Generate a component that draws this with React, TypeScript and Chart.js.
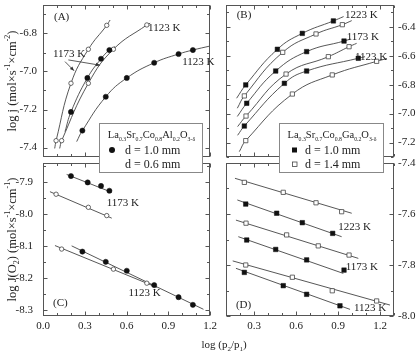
import React, { useEffect, useRef } from "react";
import { Chart, registerables } from "chart.js";

Chart.register(...registerables);

const W = 416;
const H = 353;
const FONT = "'Liberation Serif', 'Times New Roman', serif";
const INK = "#222";
const FRAME = "#555";
const LINE = "#444";

// ---------- tick values ----------
const X_TICKS_AC = [0, 0.1, 0.2, 0.3, 0.4, 0.5, 0.6, 0.7, 0.8, 0.9, 1.0, 1.1, 1.2];
const X_LABELS_AC = [0, 0.3, 0.6, 0.9, 1.2];
const X_TICKS_BD = [0.1, 0.2, 0.3, 0.4, 0.5, 0.6, 0.7, 0.8, 0.9, 1.0, 1.1, 1.2, 1.3];
const X_LABELS_BD = [0.3, 0.6, 0.9, 1.2];
const A_Y_TICKS = [-7.4, -7.3, -7.2, -7.1, -7.0, -6.9, -6.8, -6.7];
const A_Y_LABELS = [-7.4, -7.2, -7.0, -6.8];
const B_Y_TICKS = [-7.3, -7.2, -7.1, -7.0, -6.9, -6.8, -6.7, -6.6, -6.5, -6.4, -6.3];
const B_Y_LABELS = [-7.2, -7.0, -6.8, -6.6, -6.4];
const C_Y_TICKS = [-8.3, -8.25, -8.2, -8.15, -8.1, -8.05, -8.0, -7.95, -7.9, -7.85];
const C_Y_LABELS = [-8.3, -8.2, -8.1, -8.0, -7.9];
const D_Y_TICKS = [-8.0, -7.9, -7.8, -7.7, -7.6, -7.5, -7.4];
const D_Y_LABELS = [-8.0, -7.8, -7.6, -7.4];

// ---------- Panel A (La0.3Sr0.7Co0.8Al0.2O3-d, log j) ----------
const A_O1173_X = [0.094, 0.201, 0.326, 0.458];
const A_O1173_Y = [-7.364, -7.062, -6.883, -6.757];
const A_O1173_FX = [0.084, 0.482];
const A_O1173_FY = [-7.405, -6.729];
const A_F1173_X = [0.201, 0.319, 0.417, 0.477];
const A_F1173_Y = [-7.213, -7.034, -6.933, -6.887];
const A_F1173_FX = [0.158, 0.518];
const A_F1173_FY = [-7.317, -6.869];
const A_O1123_X = [0.134, 0.326, 0.506, 0.746];
const A_O1123_Y = [-7.364, -7.062, -6.883, -6.755];
const A_O1123_FX = [0.12, 0.77];
const A_O1123_FY = [-7.405, -6.746];
const A_F1123_X = [0.283, 0.451, 0.602, 0.799, 0.974, 1.077];
const A_F1123_Y = [-7.311, -7.133, -7.034, -6.954, -6.908, -6.887];
const A_F1123_FX = [0.242, 1.2];
const A_F1123_FY = [-7.369, -6.866];

// ---------- Panel B (La0.3Sr0.7Co0.8Ga0.2O3-d, log j) ----------
const B_F1223_X = [0.241, 0.467, 0.645, 0.867];
const B_F1223_Y = [-6.802, -6.556, -6.446, -6.36];
const B_F1223_FX = [0.176, 0.94];
const B_F1223_FY = [-6.894, -6.33];
const B_O1223_X = [0.231, 0.505, 0.743, 0.931];
const B_O1223_Y = [-6.878, -6.577, -6.45, -6.386];
const B_O1223_FX = [0.181, 0.998];
const B_O1223_FY = [-6.963, -6.358];
const B_F1173_X = [0.248, 0.455, 0.676, 0.943];
const B_F1173_Y = [-6.929, -6.706, -6.572, -6.499];
const B_F1173_FX = [0.181, 0.99];
const B_F1173_FY = [-7.02, -6.485];
const B_O1173_X = [0.243, 0.529, 0.831, 0.979];
const B_O1173_Y = [-7.017, -6.727, -6.607, -6.538];
const B_O1173_FX = [0.183, 1.033];
const B_O1173_FY = [-7.09, -6.515];
const B_F1123_X = [0.231, 0.517, 0.676, 1.045];
const B_F1123_Y = [-7.086, -6.791, -6.706, -6.618];
const B_F1123_FX = [0.183, 1.093];
const B_F1123_FY = [-7.15, -6.607];
const B_O1123_X = [0.241, 0.574, 0.859, 1.176];
const B_O1123_Y = [-7.187, -6.865, -6.733, -6.639];
const B_O1123_FX = [0.195, 1.25];
const B_O1123_FY = [-7.263, -6.62];

// ---------- Panel C (Al, log J(O2)) ----------
const C_F1173_X = [0.201, 0.321, 0.417, 0.477];
const C_F1173_Y = [-7.881, -7.901, -7.912, -7.927];
const C_F1173_FX = [0.17, 0.494];
const C_F1173_FY = [-7.876, -7.932];
const C_O1173_X = [0.094, 0.326, 0.458];
const C_O1173_Y = [-7.938, -7.979, -8.005];
const C_O1173_FX = [0.05, 0.494];
const C_O1173_FY = [-7.93, -8.013];
const C_F1123_X = [0.283, 0.451, 0.602, 0.799, 0.974, 1.077];
const C_F1123_Y = [-8.118, -8.15, -8.178, -8.223, -8.261, -8.285];
const C_F1123_FX = [0.206, 1.153];
const C_F1123_FY = [-8.1, -8.299];
const C_O1123_X = [0.134, 0.506, 0.746];
const C_O1123_Y = [-8.11, -8.173, -8.217];
const C_O1123_FX = [0.086, 0.818];
const C_O1123_FY = [-8.099, -8.23];

// ---------- Panel D (Ga, log J(O2)) ----------
const D_O1223_X = [0.231, 0.509, 0.743, 0.926];
const D_O1223_Y = [-7.476, -7.515, -7.556, -7.591];
const D_O1223_FX = [0.164, 0.998];
const D_O1223_FY = [-7.46, -7.597];
const D_F1223_X = [0.241, 0.462, 0.645, 0.862];
const D_F1223_Y = [-7.561, -7.597, -7.634, -7.676];
const D_F1223_FX = [0.181, 0.926];
const D_F1223_FY = [-7.545, -7.689];
const D_O1173_X = [0.243, 0.533, 0.759, 0.979];
const D_O1173_Y = [-7.636, -7.682, -7.725, -7.761];
const D_O1173_FX = [0.171, 1.045];
const D_O1173_FY = [-7.624, -7.774];
const D_F1173_X = [0.248, 0.455, 0.676, 0.943];
const D_F1173_Y = [-7.702, -7.739, -7.78, -7.82];
const D_F1173_FX = [0.188, 0.938];
const D_F1173_FY = [-7.689, -7.833];
const D_O1123_X = [0.241, 0.574, 0.859, 1.176];
const D_O1123_Y = [-7.8, -7.848, -7.901, -7.941];
const D_O1123_FX = [0.148, 1.271];
const D_O1123_FY = [-7.784, -7.957];
const D_F1123_X = [0.231, 0.509, 0.676, 0.914];
const D_F1123_Y = [-7.829, -7.881, -7.915, -7.96];
const D_F1123_FX = [0.171, 0.986];
const D_F1123_FY = [-7.813, -7.974];

// ---------- helpers ----------
type Seg = { t: string; s?: "sub" | "sup" };

const pts = (xs: number[], ys: number[]) => xs.map((x, i) => ({ x, y: ys[i] }));
const curvePts = (fx: number[], fy: number[], xs: number[], ys: number[]) => [
  { x: fx[0], y: fy[0] },
  ...pts(xs, ys),
  { x: fx[1], y: fy[1] },
];

const MARK: Record<string, any> = {
  fc: { pointStyle: "circle", pointRadius: 2.6, pointBackgroundColor: "#111", pointBorderColor: "#111", pointBorderWidth: 0.5 },
  oc: { pointStyle: "circle", pointRadius: 2.2, pointBackgroundColor: "#fff", pointBorderColor: "#444", pointBorderWidth: 0.8 },
  fs: { pointStyle: "rect", pointRadius: 3.2, pointBackgroundColor: "#111", pointBorderColor: "#111", pointBorderWidth: 0.5 },
  os: { pointStyle: "rect", pointRadius: 3.0, pointBackgroundColor: "#fff", pointBorderColor: "#444", pointBorderWidth: 0.8 },
};

const markerSet = (label: string, data: any[], kind: string) => ({
  label,
  data,
  showLine: false,
  order: 0,
  ...MARK[kind],
});

const lineSet = (label: string, data: any[], curved: boolean) => ({
  label,
  data,
  showLine: true,
  pointRadius: 0,
  borderColor: LINE,
  borderWidth: 0.9,
  fill: false,
  order: 1,
  tension: curved ? 0.45 : 0,
});

function drawRich(ctx: CanvasRenderingContext2D, segs: Seg[], x: number, y: number, size: number, small: number, align: "left" | "center") {
  const base = `${size}px ${FONT}`;
  const sm = `${small}px ${FONT}`;
  let total = 0;
  for (const s of segs) {
    ctx.font = s.s ? sm : base;
    total += ctx.measureText(s.t).width;
  }
  let cx = align === "center" ? x - total / 2 : x;
  ctx.textAlign = "left";
  ctx.textBaseline = "alphabetic";
  for (const s of segs) {
    ctx.font = s.s ? sm : base;
    const dy = s.s === "sub" ? size * 0.28 : s.s === "sup" ? -size * 0.42 : 0;
    ctx.fillText(s.t, cx, y + dy);
    cx += ctx.measureText(s.t).width;
  }
}

function drawArrow(ctx: CanvasRenderingContext2D, x1: number, y1: number, x2: number, y2: number) {
  ctx.beginPath();
  ctx.moveTo(x1, y1);
  ctx.lineTo(x2, y2);
  ctx.stroke();
  const ang = Math.atan2(y2 - y1, x2 - x1);
  const s = 4.5;
  ctx.beginPath();
  ctx.moveTo(x2, y2);
  ctx.lineTo(x2 - s * Math.cos(ang - 0.4), y2 - s * Math.sin(ang - 0.4));
  ctx.lineTo(x2 - s * Math.cos(ang + 0.4), y2 - s * Math.sin(ang + 0.4));
  ctx.closePath();
  ctx.fill();
}

const FORMULA_AL: Seg[] = [
  { t: "La" }, { t: "0.3", s: "sub" }, { t: "Sr" }, { t: "0.7", s: "sub" }, { t: "Co" }, { t: "0.8", s: "sub" },
  { t: "Al" }, { t: "0.2", s: "sub" }, { t: "O" }, { t: "3-δ", s: "sub" },
];
const FORMULA_GA: Seg[] = [
  { t: "La" }, { t: "0.3", s: "sub" }, { t: "Sr" }, { t: "0.7", s: "sub" }, { t: "Co" }, { t: "0.8", s: "sub" },
  { t: "Ga" }, { t: "0.2", s: "sub" }, { t: "O" }, { t: "3-δ", s: "sub" },
];
const TITLE_J: Seg[] = [{ t: "log j (mol×s" }, { t: "-1", s: "sup" }, { t: "×cm" }, { t: "-2", s: "sup" }, { t: ")" }];
const TITLE_JO2: Seg[] = [
  { t: "log J(O" }, { t: "2", s: "sub" }, { t: ") (mol×s" }, { t: "-1", s: "sup" }, { t: "×cm" }, { t: "-1", s: "sup" }, { t: ")" },
];
const TITLE_X: Seg[] = [{ t: "log (p" }, { t: "2", s: "sub" }, { t: "/p" }, { t: "1", s: "sub" }, { t: ")" }];

function drawLegend(ctx: CanvasRenderingContext2D, box: { x: number; y: number; w: number; h: number }, formula: Seg[], rows: { kind: string; text: string }[]) {
  ctx.fillStyle = "#fff";
  ctx.fillRect(box.x, box.y, box.w, box.h);
  ctx.strokeStyle = "#888";
  ctx.lineWidth = 1;
  ctx.strokeRect(box.x + 0.5, box.y + 0.5, box.w, box.h);
  ctx.fillStyle = INK;
  drawRich(ctx, formula, box.x + box.w / 2 + 1, box.y + 15, 10.5, 5.8, "center");
  rows.forEach((r, i) => {
    const cy = box.y + 27 + i * 14;
    const mx = box.x + 16;
    if (r.kind === "fc") {
      ctx.beginPath();
      ctx.arc(mx - 3, cy, 3, 0, Math.PI * 2);
      ctx.fillStyle = "#111";
      ctx.fill();
    } else if (r.kind === "fs") {
      ctx.fillStyle = "#111";
      ctx.fillRect(mx - 3, cy - 2.5, 5, 5);
    } else if (r.kind === "os") {
      ctx.strokeStyle = "#444";
      ctx.lineWidth = 0.8;
      ctx.strokeRect(mx - 2.5, cy - 2, 4.5, 4.5);
    }
    ctx.fillStyle = INK;
    ctx.font = `12px ${FONT}`;
    ctx.textAlign = "left";
    ctx.textBaseline = "middle";
    ctx.fillText(r.text, box.x + 26, cy + 1);
  });
}

type Rect = { l: number; t: number; r: number; b: number };
type PanelDef = {
  id: string;
  rect: Rect;
  xMin: number; xMax: number; yMin: number; yMax: number;
  xTicks: number[]; xLabels: number[]; showX: boolean;
  yTicks: number[]; yLabels: number[]; yPos: "left" | "right"; yPad: number;
  datasets: any[];
  notes: { t: string; x: number; y: number }[];
  extra?: (chart: any) => void;
};

const isIn = (v: number, arr: number[]) => arr.some((a) => Math.abs(a - v) < 1e-6);

function makeConfig(p: PanelDef): any {
  const deco = {
    id: "deco" + p.id,
    afterDraw(chart: any) {
      const { ctx, chartArea: a } = chart;
      const sx = chart.scales.x;
      const sy = chart.scales.y;
      ctx.save();
      ctx.strokeStyle = FRAME;
      ctx.lineWidth = 1;
      const L = Math.round(a.left) + 0.5;
      const T = Math.round(a.top) + 0.5;
      const R = Math.round(a.right) - 0.5;
      const B = Math.round(a.bottom) - 0.5;
      ctx.strokeRect(L, T, R - L, B - T);
      ctx.beginPath();
      for (const v of p.xTicks) {
        const x = Math.round(sx.getPixelForValue(v)) + 0.5;
        const len = isIn(v, p.xLabels) ? 4 : 2.5;
        ctx.moveTo(x, B); ctx.lineTo(x, B - len);
        ctx.moveTo(x, T); ctx.lineTo(x, T + len);
      }
      for (const v of p.yTicks) {
        const y = Math.round(sy.getPixelForValue(v)) + 0.5;
        const len = isIn(v, p.yLabels) ? 4 : 2.5;
        ctx.moveTo(L, y); ctx.lineTo(L + len, y);
        ctx.moveTo(R, y); ctx.lineTo(R - len, y);
      }
      ctx.stroke();
      ctx.fillStyle = INK;
      ctx.font = `11px ${FONT}`;
      ctx.textAlign = "left";
      ctx.textBaseline = "middle";
      for (const n of p.notes) ctx.fillText(n.t, sx.getPixelForValue(n.x), sy.getPixelForValue(n.y));
      if (p.extra) p.extra(chart);
      ctx.restore();
    },
  };
  const zeroPad = (s: any) => {
    s.paddingLeft = 0; s.paddingRight = 0; s.paddingTop = 0; s.paddingBottom = 0;
  };
  const tickFont = { family: FONT, size: 11 };
  return {
    type: "scatter",
    data: { datasets: p.datasets },
    plugins: [deco],
    options: {
      animation: false,
      responsive: false,
      devicePixelRatio: 1,
      events: [],
      layout: {
        padding: {
          left: p.yPos === "left" ? 0 : p.rect.l,
          right: p.yPos === "right" ? 0 : W - p.rect.r,
          top: p.rect.t,
          bottom: 0,
        },
      },
      plugins: { legend: { display: false }, tooltip: { enabled: false }, title: { display: false } },
      scales: {
        x: {
          type: "linear",
          position: "bottom",
          min: p.xMin,
          max: p.xMax,
          grid: { display: false, drawTicks: false },
          border: { display: false },
          ticks: {
            display: p.showX,
            autoSkip: false,
            maxRotation: 0,
            padding: 4,
            color: INK,
            font: tickFont,
            callback: (v: any) => Number(v).toFixed(1),
          },
          afterBuildTicks: (s: any) => {
            s.ticks = p.xLabels.map((v) => ({ value: v }));
          },
          afterFit: (s: any) => {
            s.height = H - p.rect.b;
            zeroPad(s);
          },
        },
        y: {
          type: "linear",
          position: p.yPos,
          min: p.yMin,
          max: p.yMax,
          grid: { display: false, drawTicks: false },
          border: { display: false },
          ticks: {
            display: true,
            autoSkip: false,
            padding: p.yPad,
            color: INK,
            font: tickFont,
            callback: (v: any) => Number(v).toFixed(1),
          },
          afterBuildTicks: (s: any) => {
            s.ticks = p.yLabels.map((v) => ({ value: v }));
          },
          afterFit: (s: any) => {
            s.width = p.yPos === "left" ? p.rect.l : W - p.rect.r;
            zeroPad(s);
          },
        },
      },
    },
  };
}

// ---------- panel definitions ----------
const PANEL_C: PanelDef = {
  id: "C",
  rect: { l: 43, t: 163, r: 210, b: 316 },
  xMin: 0, xMax: 1.2, yMin: -8.32, yMax: -7.84,
  xTicks: X_TICKS_AC, xLabels: X_LABELS_AC, showX: true,
  yTicks: C_Y_TICKS, yLabels: C_Y_LABELS, yPos: "left", yPad: 10,
  datasets: [
    markerSet("1173 K, 1.0 mm", pts(C_F1173_X, C_F1173_Y), "fc"),
    markerSet("1173 K, 0.6 mm", pts(C_O1173_X, C_O1173_Y), "oc"),
    markerSet("1123 K, 1.0 mm", pts(C_F1123_X, C_F1123_Y), "fc"),
    markerSet("1123 K, 0.6 mm", pts(C_O1123_X, C_O1123_Y), "oc"),
    lineSet("fit 1173 K 1.0", pts(C_F1173_FX, C_F1173_FY), false),
    lineSet("fit 1173 K 0.6", pts(C_O1173_FX, C_O1173_FY), false),
    lineSet("fit 1123 K 1.0", pts(C_F1123_FX, C_F1123_FY), false),
    lineSet("fit 1123 K 0.6", pts(C_O1123_FX, C_O1123_FY), false),
  ],
  notes: [
    { t: "(C)", x: 0.072, y: -8.28 },
    { t: "1173 K", x: 0.458, y: -7.966 },
    { t: "1123 K", x: 0.614, y: -8.249 },
  ],
  extra: (chart: any) => {
    const { ctx, chartArea: a } = chart;
    ctx.save();
    ctx.translate(11, (a.top + a.bottom) / 2);
    ctx.rotate(-Math.PI / 2);
    ctx.fillStyle = INK;
    drawRich(ctx, TITLE_JO2, 0, 4.5, 12.5, 8, "center");
    ctx.restore();
  },
};

const PANEL_D: PanelDef = {
  id: "D",
  rect: { l: 226, t: 163, r: 394, b: 316 },
  xMin: 0.1, xMax: 1.3, yMin: -8.0, yMax: -7.4,
  xTicks: X_TICKS_BD, xLabels: X_LABELS_BD, showX: true,
  yTicks: D_Y_TICKS, yLabels: D_Y_LABELS, yPos: "right", yPad: 4,
  datasets: [
    markerSet("1223 K, 1.4 mm", pts(D_O1223_X, D_O1223_Y), "os"),
    markerSet("1223 K, 1.0 mm", pts(D_F1223_X, D_F1223_Y), "fs"),
    markerSet("1173 K, 1.4 mm", pts(D_O1173_X, D_O1173_Y), "os"),
    markerSet("1173 K, 1.0 mm", pts(D_F1173_X, D_F1173_Y), "fs"),
    markerSet("1123 K, 1.4 mm", pts(D_O1123_X, D_O1123_Y), "os"),
    markerSet("1123 K, 1.0 mm", pts(D_F1123_X, D_F1123_Y), "fs"),
    lineSet("fit a", pts(D_O1223_FX, D_O1223_FY), false),
    lineSet("fit b", pts(D_F1223_FX, D_F1223_FY), false),
    lineSet("fit c", pts(D_O1173_FX, D_O1173_FY), false),
    lineSet("fit d", pts(D_F1173_FX, D_F1173_FY), false),
    lineSet("fit e", pts(D_O1123_FX, D_O1123_FY), false),
    lineSet("fit f", pts(D_F1123_FX, D_F1123_FY), false),
  ],
  notes: [
    { t: "(D)", x: 0.171, y: -7.957 },
    { t: "1223 K", x: 0.902, y: -7.65 },
    { t: "1173 K", x: 0.955, y: -7.807 },
    { t: "1123 K", x: 1.014, y: -7.97 },
  ],
  extra: (chart: any) => {
    const { ctx } = chart;
    ctx.fillStyle = INK;
    drawRich(ctx, TITLE_X, 224, 348, 11, 7, "center");
  },
};

const PANEL_A: PanelDef = {
  id: "A",
  rect: { l: 43, t: 5, r: 210, b: 157 },
  xMin: 0, xMax: 1.2, yMin: -7.45, yMax: -6.65,
  xTicks: X_TICKS_AC, xLabels: X_LABELS_AC, showX: false,
  yTicks: A_Y_TICKS, yLabels: A_Y_LABELS, yPos: "left", yPad: 6,
  datasets: [
    markerSet("1173 K, 0.6 mm", pts(A_O1173_X, A_O1173_Y), "oc"),
    markerSet("1173 K, 1.0 mm", pts(A_F1173_X, A_F1173_Y), "fc"),
    markerSet("1123 K, 0.6 mm", pts(A_O1123_X, A_O1123_Y), "oc"),
    markerSet("1123 K, 1.0 mm", pts(A_F1123_X, A_F1123_Y), "fc"),
    lineSet("fit 1173 0.6", curvePts(A_O1173_FX, A_O1173_FY, A_O1173_X, A_O1173_Y), true),
    lineSet("fit 1173 1.0", curvePts(A_F1173_FX, A_F1173_FY, A_F1173_X, A_F1173_Y), true),
    lineSet("fit 1123 0.6", curvePts(A_O1123_FX, A_O1123_FY, A_O1123_X, A_O1123_Y), true),
    lineSet("fit 1123 1.0", curvePts(A_F1123_FX, A_F1123_FY, A_F1123_X, A_F1123_Y), true),
  ],
  notes: [
    { t: "(A)", x: 0.079, y: -6.713 },
    { t: "1173 K", x: 0.072, y: -6.908 },
    { t: "1123 K", x: 0.755, y: -6.771 },
    { t: "1123 K", x: 1.0, y: -6.95 },
  ],
  extra: (chart: any) => {
    const { ctx, chartArea: a, scales } = chart;
    const sx = scales.x;
    const sy = scales.y;
    ctx.strokeStyle = "#333";
    ctx.fillStyle = "#333";
    ctx.lineWidth = 0.8;
    const arrows = [
      [0.158, -6.948, 0.223, -6.996],
      [0.182, -6.939, 0.41, -6.967],
    ];
    for (const [x1, y1, x2, y2] of arrows) {
      drawArrow(ctx, sx.getPixelForValue(x1), sy.getPixelForValue(y1), sx.getPixelForValue(x2), sy.getPixelForValue(y2));
    }
    ctx.save();
    ctx.translate(11, (a.top + a.bottom) / 2);
    ctx.rotate(-Math.PI / 2);
    ctx.fillStyle = INK;
    drawRich(ctx, TITLE_J, 0, 4.5, 12.5, 8, "center");
    ctx.restore();
    drawLegend(ctx, { x: 99, y: 123, w: 103, h: 49 }, FORMULA_AL, [
      { kind: "fc", text: "d = 1.0 mm" },
      { kind: "none", text: "d = 0.6 mm" },
    ]);
  },
};

const PANEL_B: PanelDef = {
  id: "B",
  rect: { l: 226, t: 5, r: 394, b: 157 },
  xMin: 0.1, xMax: 1.3, yMin: -7.3, yMax: -6.25,
  xTicks: X_TICKS_BD, xLabels: X_LABELS_BD, showX: false,
  yTicks: B_Y_TICKS, yLabels: B_Y_LABELS, yPos: "right", yPad: 4,
  datasets: [
    markerSet("1223 K, 1.0 mm", pts(B_F1223_X, B_F1223_Y), "fs"),
    markerSet("1223 K, 1.4 mm", pts(B_O1223_X, B_O1223_Y), "os"),
    markerSet("1173 K, 1.0 mm", pts(B_F1173_X, B_F1173_Y), "fs"),
    markerSet("1173 K, 1.4 mm", pts(B_O1173_X, B_O1173_Y), "os"),
    markerSet("1123 K, 1.0 mm", pts(B_F1123_X, B_F1123_Y), "fs"),
    markerSet("1123 K, 1.4 mm", pts(B_O1123_X, B_O1123_Y), "os"),
    lineSet("fit a", curvePts(B_F1223_FX, B_F1223_FY, B_F1223_X, B_F1223_Y), true),
    lineSet("fit b", curvePts(B_O1223_FX, B_O1223_FY, B_O1223_X, B_O1223_Y), true),
    lineSet("fit c", curvePts(B_F1173_FX, B_F1173_FY, B_F1173_X, B_F1173_Y), true),
    lineSet("fit d", curvePts(B_O1173_FX, B_O1173_FY, B_O1173_X, B_O1173_Y), true),
    lineSet("fit e", curvePts(B_F1123_FX, B_F1123_FY, B_F1123_X, B_F1123_Y), true),
    lineSet("fit f", curvePts(B_O1123_FX, B_O1123_FY, B_O1123_X, B_O1123_Y), true),
  ],
  notes: [
    { t: "(B)", x: 0.176, y: -6.319 },
    { t: "1223 K", x: 0.95, y: -6.319 },
    { t: "1173 K", x: 0.962, y: -6.471 },
    { t: "1123 K", x: 1.021, y: -6.609 },
  ],
  extra: (chart: any) => {
    const { ctx } = chart;
    drawLegend(ctx, { x: 279, y: 123, w: 104, h: 49 }, FORMULA_GA, [
      { kind: "fs", text: "d = 1.0 mm" },
      { kind: "os", text: "d = 1.4 mm" },
    ]);
  },
};

function Panel({ def }: { def: PanelDef }) {
  const ref = useRef<HTMLCanvasElement>(null);
  useEffect(() => {
    if (!ref.current) return;
    const chart = new Chart(ref.current, makeConfig(def));
    return () => chart.destroy();
  }, [def]);
  return (
    <canvas
      ref={ref}
      width={W}
      height={H}
      style={{ position: "absolute", left: 0, top: 0, width: W, height: H }}
    />
  );
}

export default function App() {
  return (
    <div style={{ position: "absolute", left: 0, top: 0, width: W, height: H, background: "#fff", overflow: "hidden" }}>
      <Panel def={PANEL_C} />
      <Panel def={PANEL_D} />
      <Panel def={PANEL_A} />
      <Panel def={PANEL_B} />
    </div>
  );
}
